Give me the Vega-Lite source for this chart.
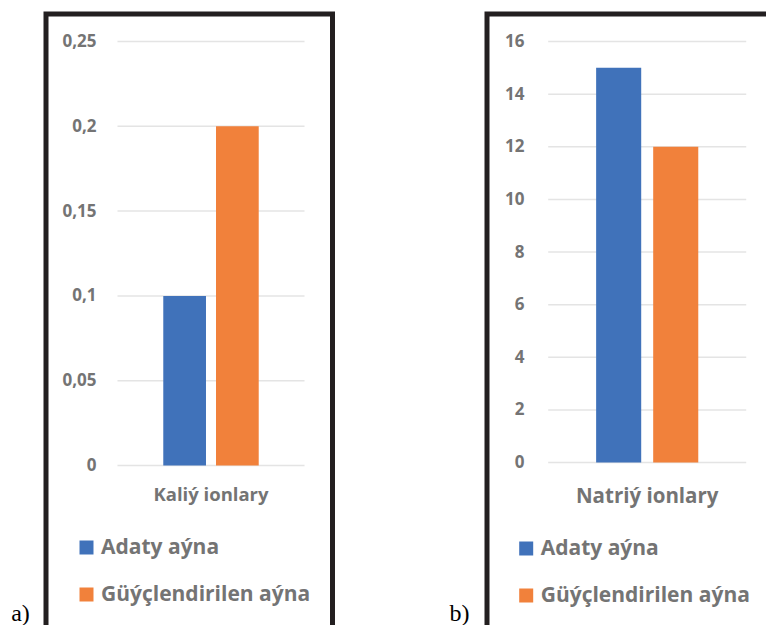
{
  "$schema": "https://vega.github.io/schema/vega-lite/v6.json",
  "background": "white",
  "padding": {"left": 8, "top": 11, "right": 0, "bottom": 0},
  "datasets": {
    "bars": [
      {"panel": "a", "ion": "Kaliý ionlary", "series": "Adaty aýna", "value": 0.1},
      {"panel": "a", "ion": "Kaliý ionlary", "series": "Güýçlendirilen aýna", "value": 0.2},
      {"panel": "b", "ion": "Natriý ionlary", "series": "Adaty aýna", "value": 15},
      {"panel": "b", "ion": "Natriý ionlary", "series": "Güýçlendirilen aýna", "value": 12}
    ],
    "gridA": [{"v": 0}, {"v": 0.05}, {"v": 0.1}, {"v": 0.15}, {"v": 0.2}, {"v": 0.25}],
    "gridB": [{"v": 0}, {"v": 2}, {"v": 4}, {"v": 6}, {"v": 8}, {"v": 10}, {"v": 12}, {"v": 14}, {"v": 16}]
  },
  "bounds": "flush",
  "spacing": 154,
  "resolve": {
    "scale": {"x": "independent", "y": "independent", "color": "independent", "xOffset": "independent"},
    "legend": {"color": "independent"}
  },
  "hconcat": [
    {
      "width": 286.5,
      "height": 615,
      "title": {"text": "a)", "orient": "left", "anchor": "start", "angle": 0, "align": "right", "baseline": "alphabetic", "font": "Liberation Serif", "fontSize": 24, "fontWeight": "normal", "color": "#000000", "offset": -2.5, "dy": -8},
      "layer": [
        {
          "data": {"name": "gridA"},
          "mark": {"type": "tick", "color": "#d9d9d9", "thickness": 1.5, "size": 187},
          "encoding": {
            "x": {"datum": "Kaliý ionlary", "type": "nominal", "title": null},
            "y": {"field": "v", "type": "quantitative", "title": null}
          }
        },
        {
          "data": {"name": "bars"},
          "transform": [{"filter": "datum.panel === 'a'"}],
          "mark": {"type": "bar"},
          "encoding": {
            "x": {"field": "ion", "type": "nominal", "title": null,
              "scale": {"domain": ["Kaliý ionlary"], "range": [71.5, 258.5], "paddingInner": 0, "paddingOuter": 0},
              "axis": {"orient": "bottom", "offset": -143.5, "ticks": false, "domain": false, "labelPadding": 0, "labelAngle": 0, "labelAlign": "center", "labelFontSize": 18.5, "labelBaseline": "top"}},
            "xOffset": {"field": "series", "type": "nominal",
              "scale": {"domain": ["Adaty aýna", "Güýçlendirilen aýna"], "paddingInner": 0.19, "paddingOuter": 0.868}},
            "y": {"field": "value", "type": "quantitative", "title": null,
              "scale": {"domain": [0, 0.25], "range": [451.5, 27.5], "nice": false},
              "axis": {"values": [0, 0.05, 0.1, 0.15, 0.2, 0.25], "grid": false, "ticks": false, "domain": false, "labelPadding": 0, "offset": -50, "labelFontSize": 17, "labelExpr": "replace(format(datum.value, '~g'), '.', ',')"}},
            "color": {"field": "series", "type": "nominal",
              "scale": {"domain": ["Adaty aýna", "Güýçlendirilen aýna"], "range": ["#4072ba", "#f1813b"]},
              "legend": {"title": null, "orient": "none", "legendX": 30, "legendY": 523, "direction": "vertical"}}
          }
        }
      ]
    },
    {
      "width": 290,
      "height": 615,
      "title": {"text": "b)", "orient": "left", "anchor": "start", "angle": 0, "align": "right", "baseline": "alphabetic", "font": "Liberation Serif", "fontSize": 24, "fontWeight": "normal", "color": "#000000", "offset": -2.5, "dy": -8},
      "layer": [
        {
          "data": {"name": "gridB"},
          "mark": {"type": "tick", "color": "#d9d9d9", "thickness": 1.5, "size": 198},
          "encoding": {
            "x": {"datum": "Natriý ionlary", "type": "nominal", "title": null},
            "y": {"field": "v", "type": "quantitative", "title": null}
          }
        },
        {
          "data": {"name": "bars"},
          "transform": [{"filter": "datum.panel === 'b'"}],
          "mark": {"type": "bar"},
          "encoding": {
            "x": {"field": "ion", "type": "nominal", "title": null,
              "scale": {"domain": ["Natriý ionlary"], "range": [61.2, 259.2], "paddingInner": 0, "paddingOuter": 0},
              "axis": {"orient": "bottom", "offset": -142.5, "ticks": false, "domain": false, "labelPadding": 0, "labelAngle": 0, "labelAlign": "center", "labelFontSize": 20.5, "labelBaseline": "top"}},
            "xOffset": {"field": "series", "type": "nominal",
              "scale": {"domain": ["Adaty aýna", "Güýçlendirilen aýna"], "paddingInner": 0.21, "paddingOuter": 0.84}},
            "y": {"field": "value", "type": "quantitative", "title": null,
              "scale": {"domain": [0, 16], "range": [448.5, 27.5], "nice": false},
              "axis": {"values": [0, 2, 4, 6, 8, 10, 12, 14, 16], "grid": false, "ticks": false, "domain": false, "labelPadding": 0, "offset": -37, "labelFontSize": 17}},
            "color": {"field": "series", "type": "nominal",
              "scale": {"domain": ["Adaty aýna", "Güýçlendirilen aýna"], "range": ["#4072ba", "#f1813b"]},
              "legend": {"title": null, "orient": "none", "legendX": 28.7, "legendY": 524, "direction": "vertical"}}
          }
        }
      ]
    }
  ],
  "config": {
    "view": {"stroke": "#231f20", "strokeWidth": 5},
    "axis": {"labelFont": "Open Sans", "labelFontWeight": "bold", "labelColor": "#747474"},
    "legend": {"labelFont": "Open Sans", "labelFontWeight": "bold", "labelColor": "#747474", "labelFontSize": 21, "symbolType": "square", "symbolSize": 196, "symbolStrokeWidth": 0, "symbolOpacity": 1, "labelOffset": 4, "rowPadding": 25, "labelLimit": 400}
  }
}
